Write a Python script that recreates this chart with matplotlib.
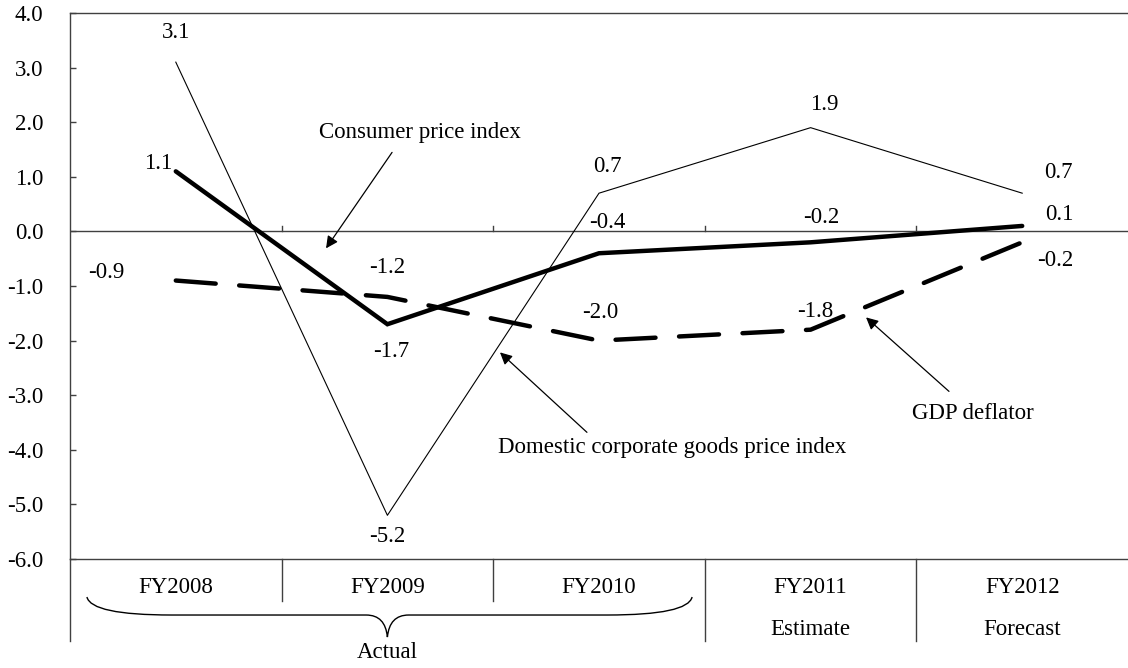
import matplotlib
matplotlib.use("Agg")
import matplotlib.pyplot as plt
from matplotlib.path import Path
from matplotlib.patches import PathPatch
from matplotlib.transforms import blended_transform_factory

plt.rcParams['font.family'] = ['Liberation Serif', 'DejaVu Serif']

# ---- data ----
categories = ["FY2008", "FY2009", "FY2010", "FY2011", "FY2012"]
sub_labels = ["", "", "", "Estimate", "Forecast"]
cgpi = [3.1, -5.2, 0.7, 1.9, 0.7]     # Domestic corporate goods price index
cpi = [1.1, -1.7, -0.4, -0.2, 0.1]     # Consumer price index
gdp = [-0.9, -1.2, -2.0, -1.8, -0.2]   # GDP deflator
yticks = [-6, -5, -4, -3, -2, -1, 0, 1, 2, 3, 4]

# label offsets (points) - styling only
off_cgpi = [(0, 21), (0, -15), (6, 19), (10, 17), (26, 15)]
off_cpi = [(-13, 6), (3, -20), (6, 22), (8, 18), (27, 8)]
off_gdp = [(-50, 6), (0, 21), (1, 20), (3, 13), (24, -13)]

FS = 16.5
frame_c = '#404040'

fig = plt.figure(figsize=(11.28, 6.68), dpi=100)
ax = fig.add_axes([70 / 1128, 1 - 559 / 668, 1058 / 1128, 546 / 668])
x = list(range(len(categories)))

ax.plot(x, cgpi, color='black', lw=0.8, zorder=3)
ax.plot(x, cpi, color='black', lw=3.2, solid_capstyle='round',
        solid_joinstyle='miter', zorder=4)
ax.plot(x, gdp, color='black', lw=3.2, dashes=(9, 5.3),
        dash_capstyle='round', zorder=4)

for series, offs in ((cgpi, off_cgpi), (cpi, off_cpi), (gdp, off_gdp)):
    for i, v in enumerate(series):
        ax.annotate(f"{v:.1f}", xy=(i, v), xytext=offs[i],
                    textcoords='offset points', ha='center', va='center',
                    fontsize=FS, zorder=6)

ax.set_xlim(-0.5, len(categories) - 0.5)
ax.set_ylim(yticks[0], yticks[-1])
ax.set_yticks(yticks)
ax.set_yticklabels([f"{t:.1f}" for t in yticks], fontsize=FS)
ax.tick_params(axis='y', direction='in', length=4.5, width=1, color=frame_c, pad=19)
ax.set_xticks([])

for s in ('left', 'top', 'bottom'):
    ax.spines[s].set_color(frame_c)
    ax.spines[s].set_linewidth(1.0)
ax.spines['right'].set_visible(False)

# zero line with category-boundary ticks
ax.axhline(0, color=frame_c, lw=1.0, zorder=2)
bt = blended_transform_factory(ax.transData, ax.transAxes)
for b in [i + 0.5 for i in range(len(categories) - 1)]:
    ax.plot([b, b], [0, 0.1], color=frame_c, lw=1.0, zorder=2)

# category table below
for i, b in enumerate([i + 0.5 for i in range(len(categories) - 1)]):
    yb = -0.077 if i < 2 else -0.150
    ax.plot([b, b], [0, yb], color=frame_c, lw=1.0, transform=bt, clip_on=False)
ax.plot([-0.5, -0.5], [0, -0.150], color=frame_c, lw=1.0, transform=bt, clip_on=False)

for i, c in enumerate(categories):
    ax.text(i, -0.053, c, transform=bt, ha='center', va='center', fontsize=FS)
    if sub_labels[i]:
        ax.text(i, -0.130, sub_labels[i], transform=bt, ha='center', va='center', fontsize=FS)

# brace for "Actual"
x0, x1, xm = -0.42, 2.44, 1.0
yt, ym, yb2 = -0.0696, -0.1026, -0.143
verts = [(x0, yt), (x0 + 0.02, ym), (x0 + 0.40, ym),
         (xm - 0.10, ym),
         (xm - 0.01, ym), (xm, yb2),
         (xm + 0.01, ym), (xm + 0.10, ym),
         (x1 - 0.40, ym),
         (x1 - 0.02, ym), (x1, yt)]
codes = [Path.MOVETO, Path.CURVE3, Path.CURVE3,
         Path.LINETO,
         Path.CURVE3, Path.CURVE3,
         Path.CURVE3, Path.CURVE3,
         Path.LINETO,
         Path.CURVE3, Path.CURVE3]
ax.add_patch(PathPatch(Path(verts, codes), fill=False, lw=1.0,
                       edgecolor='black', transform=bt, clip_on=False))
ax.text(xm, -0.172, "Actual", transform=bt, ha='center', va='center', fontsize=FS)

# annotations
arrow = dict(arrowstyle='-|>', color='black', lw=0.9, mutation_scale=18,
             shrinkA=0, shrinkB=0)
ax.annotate("", xy=(0.710, -0.31), xytext=(1.022, 1.447), arrowprops=arrow)
ax.text(1.154, 1.813, "Consumer price index", ha='center', va='center', fontsize=FS)
ax.annotate("", xy=(1.532, -2.216), xytext=(1.943, -3.68), arrowprops=arrow)
ax.text(2.345, -3.956, "Domestic corporate goods price index", ha='center',
        va='center', fontsize=FS)
ax.annotate("", xy=(3.262, -1.575), xytext=(3.654, -2.93), arrowprops=arrow)
ax.text(3.767, -3.333, "GDP deflator", ha='center', va='center', fontsize=FS)

fig.savefig("out.png", dpi=100)
